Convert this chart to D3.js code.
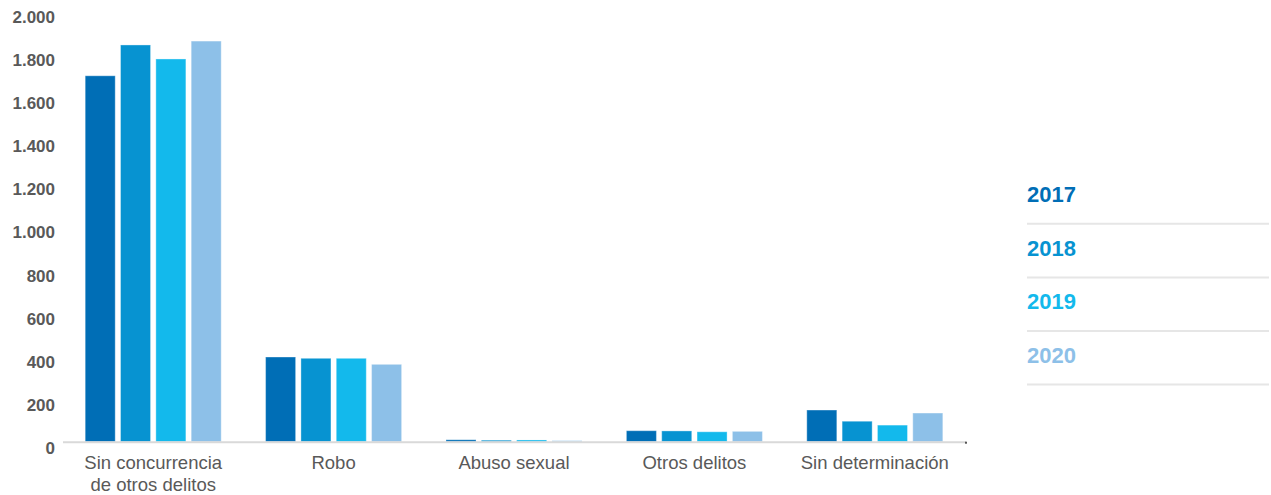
<!DOCTYPE html>
<html>
<head>
<meta charset="utf-8">
<script src="https://cdn.jsdelivr.net/npm/d3@7"></script>
<style>
  html, body { margin: 0; padding: 0; background: #ffffff; }
  svg { display: block; }
</style>
</head>
<body>
<svg id="chart" width="1271" height="495"></svg>
<script>
const categories = [
  ["Sin concurrencia", "de otros delitos"],
  ["Robo"],
  ["Abuso sexual"],
  ["Otros delitos"],
  ["Sin determinación"]
];
const years = ["2017", "2018", "2019", "2020"];
const values2017 = [1698, 393, 9, 51, 147];
const values2018 = [1841, 387, 7, 50, 95];
const values2019 = [1776, 387, 8, 46, 77];
const values2020 = [1859, 359, 5, 48, 133];
const yTicks = [0, 200, 400, 600, 800, 1000, 1200, 1400, 1600, 1800, 2000];
const colors = ["#006eb6", "#0793d1", "#13b9ec", "#8dc0e8"];

const seriesValues = [values2017, values2018, values2019, values2020];
const catKeys = categories.map(c => c.join(" "));

const svg = d3.select("#chart");
const locale = d3.formatLocale({decimal: ",", thousands: ".", grouping: [3], currency: ["", "€"]});
const fmt = locale.format(",d");

const y = d3.scaleLinear().domain([0, 2000]).range([441.7, 10.7]);
const x0 = d3.scaleBand().domain(catKeys).range([63, 965]).paddingInner(0.246).paddingOuter(0.123);
const x1 = d3.scaleBand().domain(years).range([0, x0.bandwidth()]).paddingInner(0.15).paddingOuter(0);

// y tick labels
const yAxis = d3.axisLeft(y).tickValues(yTicks).tickFormat(fmt).tickSize(0).tickPadding(0);
const gy = svg.append("g").attr("transform", "translate(55,0)").call(yAxis);
gy.select(".domain").remove();
gy.selectAll("text")
  .attr("dy", "0.32em")
  .attr("y", 6.3)
  .attr("font-family", "Liberation Sans, Arial, sans-serif")
  .attr("font-size", 17)
  .attr("font-weight", "bold")
  .attr("fill", "#595959");

// bars
const groups = svg.append("g").selectAll("g")
  .data(catKeys)
  .join("g")
  .attr("transform", d => `translate(${x0(d)},0)`);

groups.selectAll("rect")
  .data((d, i) => years.map((yr, j) => ({yr, v: seriesValues[j][i], j})))
  .join("rect")
  .attr("x", d => x1(d.yr))
  .attr("width", x1.bandwidth())
  .attr("y", d => y(d.v))
  .attr("height", d => y(0) - y(d.v))
  .attr("fill", d => colors[d.j])
  .attr("stroke", "rgba(255,255,255,0.35)")
  .attr("stroke-width", 1);

// x axis baseline
svg.append("line")
  .attr("x1", x0.range()[0]).attr("x2", x0.range()[1] + 1)
  .attr("y1", y(0) + 0.5).attr("y2", y(0) + 0.5)
  .attr("stroke", "#d9d9d9").attr("stroke-width", 2);
svg.append("rect")
  .attr("x", x0.range()[1]).attr("y", y(0))
  .attr("width", 2).attr("height", 2)
  .attr("fill", "#555");

// category labels
const xl = svg.append("g");
categories.forEach((lines, i) => {
  const cx = x0(catKeys[i]) + x0.bandwidth() / 2;
  const t = xl.append("text")
    .attr("x", cx)
    .attr("y", 469)
    .attr("text-anchor", "middle")
    .attr("font-family", "Liberation Sans, Arial, sans-serif")
    .attr("font-size", 18.5)
    .attr("fill", "#595959");
  lines.forEach((ln, k) => {
    t.append("tspan").attr("x", cx).attr("dy", k === 0 ? 0 : 21.5).text(ln);
  });
});

// legend
const legend = svg.append("g");
years.forEach((yr, i) => {
  const cy = 194.3 + i * 53.6;
  legend.append("text")
    .attr("x", 1027)
    .attr("y", cy)
    .attr("dy", "0.36em")
    .attr("font-family", "Liberation Sans, Arial, sans-serif")
    .attr("font-size", 22)
    .attr("font-weight", "bold")
    .attr("fill", colors[i])
    .text(yr);
  legend.append("line")
    .attr("x1", 1027).attr("x2", 1269)
    .attr("y1", cy + 29.5).attr("y2", cy + 29.5)
    .attr("stroke", "#e6e6e6").attr("stroke-width", 2);
});
</script>
</body>
</html>
